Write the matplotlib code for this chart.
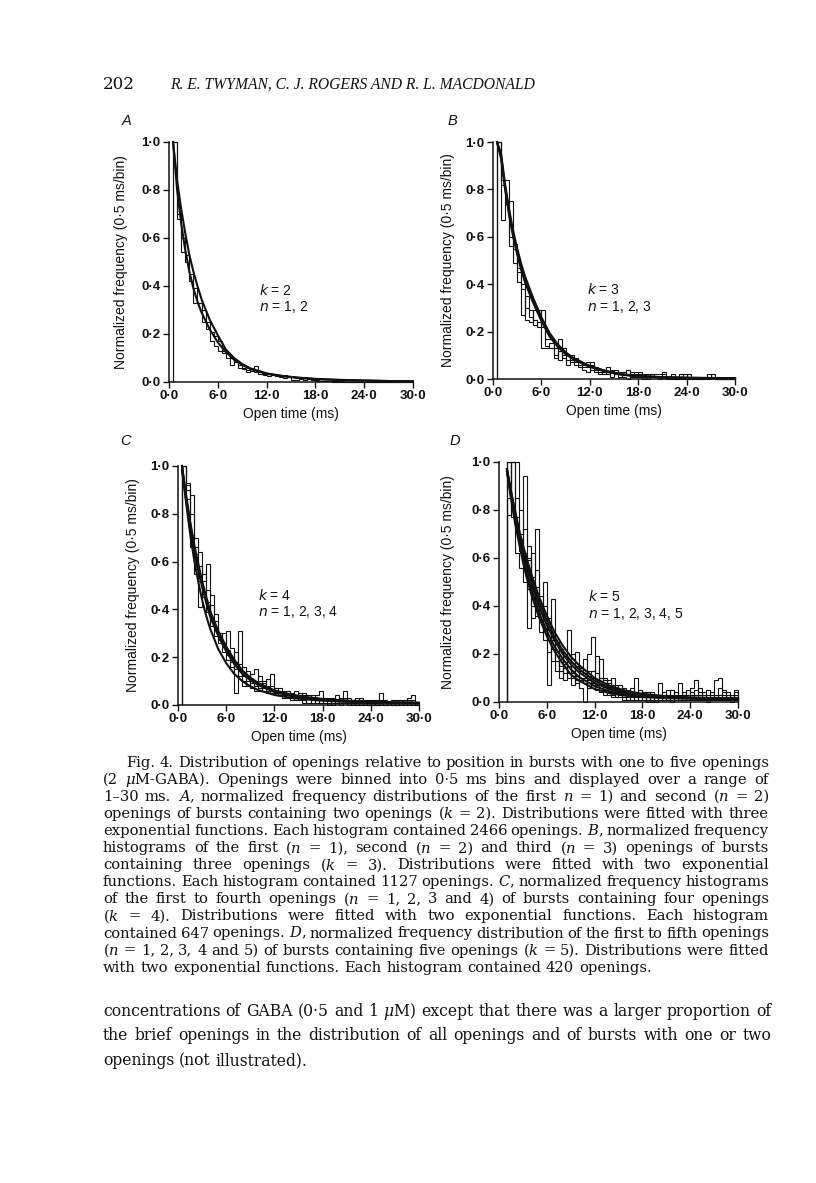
import matplotlib
matplotlib.use("Agg")
import matplotlib.pyplot as plt
import numpy as np

W, H = 816, 1183
SANS = "Liberation Sans"
SERIF = "DejaVu Serif"
HEAD_SERIF = "Liberation Serif"
INK = "#111111"

plt.rcParams["mathtext.fontset"] = "custom"
plt.rcParams["mathtext.rm"] = SERIF
plt.rcParams["mathtext.it"] = SERIF + ":italic"
plt.rcParams["mathtext.bf"] = SERIF + ":bold"

# ---- data -------------------------------------------------------------
BIN_MS = 0.5

X_TICKS = [0, 6, 12, 18, 24, 30]
X_TICK_LABELS = ["0·0", "6·0", "12·0", "18·0", "24·0", "30·0"]
Y_TICKS = [0.0, 0.2, 0.4, 0.6, 0.8, 1.0]
Y_TICK_LABELS = ["0·0", "0·2", "0·4", "0·6", "0·8", "1·0"]

# panel A: k = 2, n = 1, 2 (bins start at 0.5 ms)
A_START = 0.5
A_H1 = [1.00, 0.70, 0.60, 0.50, 0.45, 0.39, 0.33, 0.30, 0.25, 0.21,
        0.19, 0.17, 0.13, 0.12, 0.10, 0.085, 0.07, 0.06, 0.05, 0.055,
        0.065, 0.04, 0.035, 0.035, 0.03, 0.028, 0.025, 0.03, 0.02, 0.02,
        0.015, 0.018, 0.02, 0.012, 0.01, 0.008, 0.006, 0.005, 0.004, 0.004,
        0.003, 0.003, 0.002, 0.002, 0.002, 0.001, 0.001, 0.001, 0.001, 0.0,
        0.0, 0.0, 0.0, 0.0, 0.0, 0.0, 0.0, 0.0, 0.0]
A_H2 = [1.00, 0.68, 0.54, 0.53, 0.42, 0.33, 0.33, 0.25, 0.22, 0.17,
        0.15, 0.13, 0.12, 0.10, 0.07, 0.09, 0.06, 0.055, 0.04, 0.045,
        0.04, 0.035, 0.03, 0.025, 0.03, 0.025, 0.02, 0.015, 0.02, 0.01,
        0.008, 0.012, 0.01, 0.015, 0.008, 0.005, 0.004, 0.003, 0.003, 0.002,
        0.002, 0.002, 0.001, 0.001, 0.001, 0.001, 0.0, 0.0, 0.0, 0.0,
        0.0, 0.0, 0.0, 0.0, 0.0, 0.0, 0.0, 0.0, 0.0]
A_T = [0.5, 1, 1.5, 2, 2.5, 3, 3.5, 4, 5, 6, 7, 8, 9, 10, 12, 14, 16, 18, 21, 24, 27, 30]
A_F1 = [1.0, 0.84, 0.72, 0.62, 0.53, 0.46, 0.40, 0.345, 0.26, 0.195, 0.135,
        0.100, 0.075, 0.057, 0.036, 0.025, 0.018, 0.013, 0.009, 0.006, 0.004, 0.003]
A_F2 = [1.0, 0.80, 0.66, 0.55, 0.46, 0.39, 0.335, 0.29, 0.22, 0.165, 0.125,
        0.093, 0.071, 0.054, 0.034, 0.024, 0.017, 0.012, 0.008, 0.006, 0.004, 0.003]

# panel B: k = 3, n = 1, 2, 3
B_START = 0.5
B_H1 = [1.0, 0.84, 0.84, 0.56, 0.57, 0.47, 0.38, 0.25, 0.24, 0.29,
        0.29, 0.13, 0.13, 0.15, 0.09, 0.17, 0.10, 0.06, 0.10, 0.06,
        0.05, 0.04, 0.03, 0.06, 0.04, 0.02, 0.03, 0.05, 0.04, 0.03,
        0.02, 0.01, 0.00, 0.03, 0.02, 0.01, 0.02, 0.01, 0.02, 0.01,
        0.00, 0.02, 0.01, 0.00, 0.01, 0.00, 0.02, 0.00, 0.00, 0.01,
        0.00, 0.01, 0.02, 0.01, 0.00, 0.00, 0.00, 0.00, 0.00]
B_H2 = [1.0, 0.67, 0.75, 0.75, 0.49, 0.45, 0.27, 0.35, 0.29, 0.23,
        0.24, 0.22, 0.17, 0.17, 0.13, 0.08, 0.13, 0.10, 0.07, 0.09,
        0.06, 0.05, 0.05, 0.07, 0.05, 0.04, 0.02, 0.03, 0.01, 0.04,
        0.03, 0.02, 0.04, 0.01, 0.03, 0.02, 0.00, 0.02, 0.01, 0.02,
        0.02, 0.01, 0.00, 0.01, 0.00, 0.02, 0.01, 0.01, 0.00, 0.01,
        0.01, 0.00, 0.01, 0.02, 0.00, 0.00, 0.00, 0.00, 0.00]
B_H3 = [1.0, 0.82, 0.74, 0.60, 0.55, 0.41, 0.40, 0.30, 0.26, 0.25,
        0.22, 0.29, 0.14, 0.13, 0.10, 0.12, 0.09, 0.08, 0.08, 0.07,
        0.07, 0.06, 0.07, 0.04, 0.03, 0.03, 0.04, 0.02, 0.03, 0.02,
        0.01, 0.03, 0.02, 0.02, 0.01, 0.03, 0.01, 0.00, 0.02, 0.01,
        0.01, 0.03, 0.01, 0.02, 0.00, 0.01, 0.00, 0.02, 0.01, 0.00,
        0.00, 0.01, 0.00, 0.01, 0.00, 0.00, 0.00, 0.00, 0.00]
B_T = [0.5, 1, 1.5, 2, 2.5, 3, 3.5, 4, 5, 6, 7, 8, 9, 10, 12, 14, 16, 18, 21, 24, 27, 30]
B_F1 = [1.0, 0.94, 0.81, 0.70, 0.61, 0.535, 0.47, 0.415, 0.33, 0.25, 0.185,
        0.14, 0.108, 0.085, 0.053, 0.033, 0.019, 0.012, 0.007, 0.005, 0.004, 0.003]
B_F2 = [1.0, 0.93, 0.80, 0.69, 0.60, 0.525, 0.46, 0.405, 0.32, 0.245, 0.18,
        0.137, 0.105, 0.082, 0.051, 0.031, 0.018, 0.011, 0.007, 0.005, 0.004, 0.003]
B_F3 = [1.0, 0.95, 0.82, 0.715, 0.625, 0.55, 0.485, 0.43, 0.34, 0.26, 0.195,
        0.147, 0.113, 0.088, 0.055, 0.034, 0.020, 0.013, 0.008, 0.005, 0.004, 0.003]

# panel C: k = 4, n = 1..4
C_START = 0.5
C_H1 = [1.0, 0.93, 0.88, 0.66, 0.64, 0.55, 0.43, 0.35, 0.32, 0.26,
        0.30, 0.21, 0.18, 0.05, 0.31, 0.12, 0.14, 0.07, 0.09, 0.07,
        0.10, 0.05, 0.13, 0.04, 0.06, 0.05, 0.03, 0.04, 0.06, 0.02,
        0.04, 0.03, 0.01, 0.04, 0.06, 0.02, 0.03, 0.01, 0.04, 0.02,
        0.06, 0.01, 0.02, 0.00, 0.03, 0.01, 0.00, 0.02, 0.01, 0.05,
        0.00, 0.01, 0.02, 0.00, 0.01, 0.02, 0.03, 0.04, 0.01]
C_H2 = [1.0, 0.86, 0.71, 0.55, 0.41, 0.47, 0.39, 0.42, 0.38, 0.30,
        0.22, 0.23, 0.16, 0.22, 0.12, 0.08, 0.10, 0.13, 0.15, 0.10,
        0.06, 0.08, 0.06, 0.07, 0.04, 0.06, 0.05, 0.03, 0.03, 0.05,
        0.02, 0.04, 0.03, 0.02, 0.02, 0.01, 0.01, 0.03, 0.02, 0.00,
        0.01, 0.03, 0.01, 0.02, 0.01, 0.00, 0.02, 0.01, 0.00, 0.01,
        0.02, 0.01, 0.00, 0.02, 0.01, 0.00, 0.01, 0.02, 0.00]
C_H3 = [1.0, 0.92, 0.66, 0.63, 0.52, 0.52, 0.59, 0.46, 0.29, 0.30,
        0.26, 0.31, 0.24, 0.18, 0.14, 0.16, 0.08, 0.10, 0.06, 0.12,
        0.07, 0.11, 0.08, 0.05, 0.07, 0.03, 0.04, 0.05, 0.02, 0.03,
        0.05, 0.01, 0.04, 0.03, 0.01, 0.03, 0.00, 0.02, 0.01, 0.03,
        0.02, 0.00, 0.01, 0.03, 0.00, 0.02, 0.01, 0.00, 0.02, 0.00,
        0.01, 0.00, 0.01, 0.00, 0.02, 0.01, 0.00, 0.01, 0.00]
C_H4 = [1.0, 0.90, 0.80, 0.70, 0.58, 0.45, 0.48, 0.33, 0.35, 0.27,
        0.25, 0.19, 0.20, 0.15, 0.17, 0.10, 0.12, 0.09, 0.08, 0.06,
        0.09, 0.06, 0.05, 0.06, 0.05, 0.04, 0.06, 0.02, 0.04, 0.04,
        0.01, 0.03, 0.02, 0.01, 0.03, 0.02, 0.02, 0.00, 0.02, 0.01,
        0.03, 0.02, 0.00, 0.01, 0.02, 0.01, 0.00, 0.01, 0.00, 0.02,
        0.00, 0.01, 0.00, 0.01, 0.00, 0.01, 0.02, 0.00, 0.01]
C_T = [0.5, 1, 1.5, 2, 2.5, 3, 3.5, 4, 5, 6, 7, 8, 9, 10, 12, 14, 16, 18, 21, 24, 27, 30]
C_F1 = [1.0, 0.87, 0.76, 0.66, 0.58, 0.51, 0.44, 0.38, 0.30, 0.235, 0.18,
        0.135, 0.11, 0.088, 0.058, 0.042, 0.031, 0.024, 0.017, 0.013, 0.011, 0.009]
C_F2 = [0.98, 0.86, 0.745, 0.65, 0.565, 0.495, 0.43, 0.37, 0.29, 0.225, 0.172,
        0.13, 0.104, 0.083, 0.054, 0.038, 0.028, 0.021, 0.015, 0.011, 0.009, 0.008]
C_F3 = [1.0, 0.85, 0.72, 0.61, 0.52, 0.44, 0.375, 0.32, 0.235, 0.175, 0.13,
        0.10, 0.078, 0.062, 0.042, 0.03, 0.023, 0.018, 0.013, 0.010, 0.008, 0.007]
C_F4 = [1.0, 0.88, 0.77, 0.675, 0.595, 0.52, 0.455, 0.395, 0.31, 0.245, 0.19,
        0.145, 0.115, 0.092, 0.061, 0.044, 0.033, 0.025, 0.018, 0.014, 0.011, 0.009]

# panel D: k = 5, n = 1..5 (bins start at 1.0 ms)
D_START = 1.0
D_H1 = [1.0, 1.0, 1.0, 0.80, 0.62, 0.59, 0.52, 0.72, 0.34, 0.40,
        0.07, 0.26, 0.21, 0.15, 0.12, 0.30, 0.10, 0.15, 0.06, 0.00,
        0.20, 0.27, 0.12, 0.08, 0.05, 0.09, 0.03, 0.06, 0.07, 0.02,
        0.04, 0.03, 0.10, 0.02, 0.01, 0.04, 0.02, 0.03, 0.08, 0.01,
        0.03, 0.05, 0.02, 0.08, 0.03, 0.02, 0.06, 0.09, 0.04, 0.02,
        0.05, 0.01, 0.09, 0.10, 0.05, 0.02, 0.01, 0.05]
D_H2 = [0.78, 1.0, 0.72, 0.70, 0.94, 0.65, 0.40, 0.48, 0.44, 0.26,
        0.30, 0.22, 0.17, 0.22, 0.16, 0.12, 0.20, 0.09, 0.13, 0.18,
        0.11, 0.08, 0.19, 0.06, 0.10, 0.04, 0.07, 0.02, 0.04, 0.05,
        0.01, 0.06, 0.02, 0.03, 0.04, 0.01, 0.03, 0.00, 0.02, 0.04,
        0.02, 0.01, 0.04, 0.02, 0.01, 0.05, 0.03, 0.02, 0.06, 0.03,
        0.01, 0.03, 0.02, 0.06, 0.02, 0.04, 0.02, 0.03]
D_H3 = [1.0, 0.80, 0.62, 0.56, 0.50, 0.31, 0.62, 0.42, 0.29, 0.31,
        0.35, 0.17, 0.24, 0.13, 0.19, 0.10, 0.13, 0.21, 0.10, 0.08,
        0.06, 0.13, 0.09, 0.18, 0.07, 0.06, 0.10, 0.04, 0.02, 0.06,
        0.03, 0.02, 0.04, 0.05, 0.02, 0.03, 0.01, 0.02, 0.01, 0.03,
        0.05, 0.02, 0.01, 0.03, 0.02, 0.01, 0.04, 0.03, 0.02, 0.04,
        0.02, 0.02, 0.01, 0.03, 0.04, 0.01, 0.03, 0.01]
D_H4 = [1.0, 0.77, 0.85, 0.63, 0.72, 0.47, 0.44, 0.36, 0.37, 0.50,
        0.26, 0.29, 0.13, 0.18, 0.09, 0.15, 0.07, 0.11, 0.14, 0.12,
        0.09, 0.07, 0.05, 0.10, 0.03, 0.08, 0.02, 0.07, 0.05, 0.01,
        0.05, 0.04, 0.01, 0.02, 0.03, 0.00, 0.04, 0.01, 0.03, 0.02,
        0.01, 0.03, 0.02, 0.01, 0.04, 0.02, 0.01, 0.05, 0.03, 0.01,
        0.03, 0.04, 0.02, 0.01, 0.03, 0.02, 0.00, 0.02]
D_H5 = [0.85, 1.0, 0.77, 0.68, 0.55, 0.60, 0.35, 0.55, 0.41, 0.30,
        0.21, 0.43, 0.25, 0.10, 0.14, 0.18, 0.12, 0.08, 0.09, 0.10,
        0.13, 0.10, 0.07, 0.04, 0.09, 0.03, 0.06, 0.05, 0.03, 0.04,
        0.02, 0.01, 0.03, 0.01, 0.02, 0.02, 0.00, 0.03, 0.02, 0.01,
        0.02, 0.00, 0.03, 0.02, 0.01, 0.03, 0.02, 0.01, 0.01, 0.02,
        0.00, 0.02, 0.03, 0.02, 0.01, 0.03, 0.02, 0.04]
D_T = [1.0, 1.5, 2, 2.5, 3, 3.5, 4, 5, 6, 7, 8, 9, 10, 12, 14, 16, 18, 21, 24, 27, 30]
D_F1 = [0.97, 0.88, 0.80, 0.72, 0.655, 0.595, 0.54, 0.44, 0.36, 0.29, 0.235,
        0.19, 0.155, 0.10, 0.066, 0.046, 0.034, 0.024, 0.019, 0.016, 0.014]
D_F2 = [0.97, 0.87, 0.78, 0.70, 0.625, 0.56, 0.50, 0.40, 0.32, 0.255, 0.20,
        0.158, 0.125, 0.079, 0.052, 0.036, 0.027, 0.020, 0.016, 0.014, 0.013]
D_F3 = [0.96, 0.85, 0.75, 0.665, 0.585, 0.515, 0.455, 0.355, 0.275, 0.21, 0.16,
        0.115, 0.09, 0.054, 0.036, 0.026, 0.021, 0.016, 0.014, 0.012, 0.011]
D_F4 = [0.97, 0.875, 0.79, 0.71, 0.64, 0.575, 0.52, 0.42, 0.34, 0.27, 0.215,
        0.172, 0.138, 0.089, 0.058, 0.041, 0.030, 0.022, 0.017, 0.015, 0.013]
D_F5 = [0.96, 0.86, 0.76, 0.68, 0.60, 0.535, 0.475, 0.375, 0.295, 0.23, 0.18,
        0.137, 0.105, 0.066, 0.043, 0.030, 0.023, 0.018, 0.015, 0.013, 0.012]

HEADER_NUM = "202"
HEADER = "R. E. TWYMAN, C. J. ROGERS AND R. L. MACDONALD"
CAPTION = [
    "Fig. 4. Distribution of openings relative to position in bursts with one to five openings",
    "(2 $\\mu$M-GABA). Openings were binned into 0·5 ms bins and displayed over a range of",
    "1–30 ms. $A$, normalized frequency distributions of the first $n$ = 1) and second ($n$ = 2)",
    "openings of bursts containing two openings ($k$ = 2). Distributions were fitted with three",
    "exponential functions. Each histogram contained 2466 openings. $B$, normalized frequency",
    "histograms of the first ($n$ = 1), second ($n$ = 2) and third ($n$ = 3) openings of bursts",
    "containing three openings ($k$ = 3). Distributions were fitted with two exponential",
    "functions. Each histogram contained 1127 openings. $C$, normalized frequency histograms",
    "of the first to fourth openings ($n$ = 1, 2, 3 and 4) of bursts containing four openings",
    "($k$ = 4). Distributions were fitted with two exponential functions. Each histogram",
    "contained 647 openings. $D$, normalized frequency distribution of the first to fifth openings",
    "($n$ = 1, 2, 3, 4 and 5) of bursts containing five openings ($k$ = 5). Distributions were fitted",
    "with two exponential functions. Each histogram contained 420 openings.",
]
BODY = [
    "concentrations of GABA (0·5 and 1 $\\mu$M) except that there was a larger proportion of",
    "the brief openings in the distribution of all openings and of bursts with one or two",
    "openings (not illustrated).",
]

# ---- figure -------------------------------------------------------------
fig = plt.figure(figsize=(W / 100, H / 100), dpi=100)
fig.patch.set_facecolor("white")
R = fig.canvas.get_renderer()


def fx(px):
    return px / W


def fy(py):
    return 1 - py / H


def panel(rect, letter, letter_px, hists, start, fit_t, fits,
          k_txt, n_txt, txt_xy, ylab_x):
    ax = fig.add_axes(rect)
    for h in hists:
        edges = start + BIN_MS * np.arange(len(h) + 1)
        ax.stairs(h, edges, baseline=0, color=INK, lw=0.8, clip_on=False)
    for f in fits:
        ax.plot(fit_t, f, color=INK, lw=1.5, clip_on=False,
                solid_joinstyle="round")
    ax.set_xlim(0, 30)
    ax.set_ylim(0, 1.0)
    ax.set_xticks(X_TICKS)
    ax.set_xticklabels(X_TICK_LABELS)
    ax.set_yticks(Y_TICKS)
    ax.set_yticklabels(Y_TICK_LABELS)
    for s in ("top", "right"):
        ax.spines[s].set_visible(False)
    for s in ("left", "bottom"):
        ax.spines[s].set_linewidth(1.1)
        ax.spines[s].set_color(INK)
    ax.tick_params(direction="out", length=4, width=1.0, color=INK,
                   labelsize=9.5, pad=2, labelcolor=INK)
    for lbl in ax.get_xticklabels() + ax.get_yticklabels():
        lbl.set_fontweight("bold")
        lbl.set_family(SANS)
    ax.set_ylabel("Normalized frequency (0·5 ms/bin)", family=SANS,
                  fontsize=10, color=INK)
    ax.yaxis.set_label_coords(ylab_x, 0.5)
    ax.set_xlabel("Open time (ms)", family=SANS, fontsize=10, color=INK)
    ax.xaxis.set_label_coords(0.5, -0.105)
    ax.text(txt_xy[0], txt_xy[1], k_txt, family=SANS, fontsize=10,
            math_fontfamily="dejavusans", va="center", color=INK)
    ax.text(txt_xy[0], txt_xy[1] - 0.072, n_txt, family=SANS, fontsize=10,
            math_fontfamily="dejavusans", va="center", color=INK)
    fig.text(fx(letter_px[0]), fy(letter_px[1]), letter, family=SANS,
             style="italic", fontsize=10.5, va="center", ha="center",
             color=INK)
    return ax


panel([0.2071, 0.6771, 0.2990, 0.2029], "A", (127, 121),
      [A_H1, A_H2], A_START, A_T, [A_F1, A_F2],
      "$k$ = 2", "$n$ = 1, 2", (11.1, 0.383), -0.168)
panel([0.6042, 0.6796, 0.2966, 0.2003], "B", (452, 121),
      [B_H1, B_H2, B_H3], B_START, B_T, [B_F1, B_F2, B_F3],
      "$k$ = 3", "$n$ = 1, 2, 3", (11.6, 0.376), -0.157)
panel([0.2181, 0.4041, 0.2953, 0.2020], "C", (125, 441),
      [C_H1, C_H2, C_H3, C_H4], C_START, C_T, [C_F1, C_F2, C_F3, C_F4],
      "$k$ = 4", "$n$ = 1, 2, 3, 4", (10.0, 0.46), -0.158)
panel([0.6115, 0.4066, 0.2929, 0.2029], "D", (455, 441),
      [D_H1, D_H2, D_H3, D_H4, D_H5], D_START, D_T,
      [D_F1, D_F2, D_F3, D_F4, D_F5],
      "$k$ = 5", "$n$ = 1, 2, 3, 4, 5", (11.2, 0.439), -0.184)


# ---- page text ----------------------------------------------------------
def widths(words, fs):
    out = []
    for w in words:
        t = fig.text(0, 0, w, family=SERIF, fontsize=fs, math_fontfamily="custom")
        out.append(t.get_window_extent(R).width)
        t.remove()
    return out


def space_w(fs):
    a, b = widths(["n n", "nn"], fs)
    return a - b


def block(lines, x0s, x1, y0, step, fs0=10.0):
    # pick a size that lets most lines keep a normal word space,
    # tight lines get squeezed a little
    sp0 = space_w(fs0)
    ratios = []
    for line, x0 in zip(lines[:-1], x0s[:-1]):
        ws = widths(line.split(" "), fs0)
        ratios.append((x1 - x0) / (sum(ws) + sp0 * (len(ws) - 1)))
    ratios.sort()
    fs = fs0 * ratios[len(ratios) // 4]
    sp = space_w(fs)
    for i, (line, x0) in enumerate(zip(lines, x0s)):
        words = line.split(" ")
        ws = widths(words, fs)
        if i == len(lines) - 1:
            gap = sp
        else:
            gap = max((x1 - x0 - sum(ws)) / (len(words) - 1), 0.35 * sp)
        x = x0
        for w, wd in zip(words, ws):
            fig.text(fx(x), fy(y0 + i * step), w, family=SERIF, fontsize=fs,
                     math_fontfamily="custom", va="baseline", color=INK)
            x += wd + gap


fig.text(fx(103), fy(89), HEADER_NUM, family=SERIF, fontsize=12,
         va="baseline", color=INK)
t = fig.text(fx(170), fy(89), HEADER, family=HEAD_SERIF, style="italic",
             fontsize=12, va="baseline", color=INK)
t.set_fontsize(12 * 365 / t.get_window_extent(R).width)

block(CAPTION, [126] + [103] * (len(CAPTION) - 1), 769, 767, 17.05)
block(BODY, [103] * len(BODY), 771, 1016, 24.5)

fig.savefig("out.png", dpi=100, facecolor="white")
